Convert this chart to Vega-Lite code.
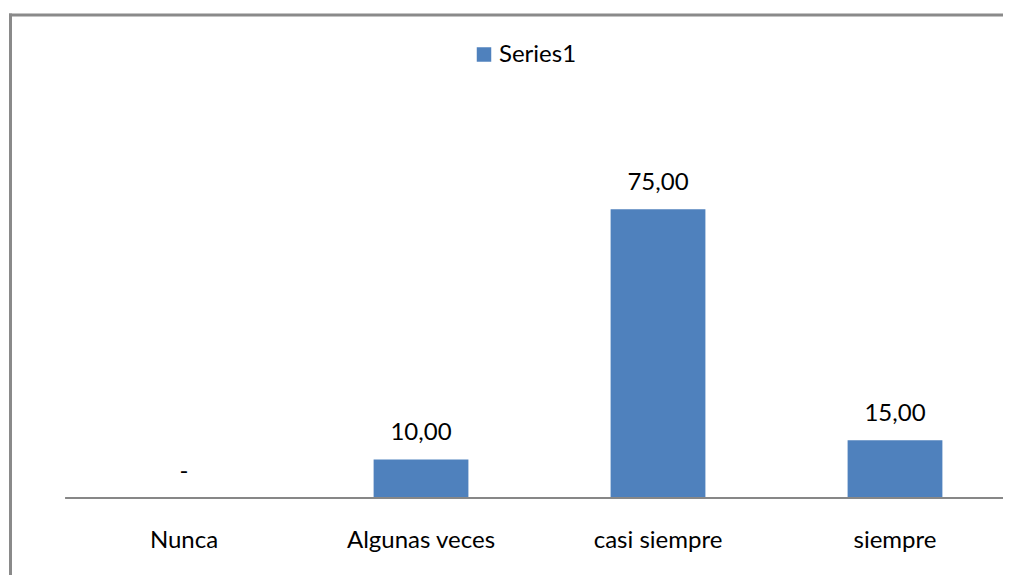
{
  "$schema": "https://vega.github.io/schema/vega-lite/v6.json",
  "width": 993,
  "height": 560,
  "autosize": {"type": "none"},
  "padding": {"left": 10, "top": 14.5, "right": 0, "bottom": 0},
  "background": "white",
  "config": {
    "view": {"stroke": null},
    "font": "Lato",
    "text": {"font": "Lato", "fontSize": 24, "color": "#000000"}
  },
  "data": {
    "values": [
      {"category": "Nunca", "value": 0, "label": "-", "series": "Series1"},
      {"category": "Algunas veces", "value": 10, "label": "10,00", "series": "Series1"},
      {"category": "casi siempre", "value": 75, "label": "75,00", "series": "Series1"},
      {"category": "siempre", "value": 15, "label": "15,00", "series": "Series1"}
    ]
  },
  "encoding": {
    "x": {
      "field": "category",
      "type": "nominal",
      "sort": null,
      "scale": {"paddingInner": 0.6, "paddingOuter": 0.395, "align": 0.6763},
      "axis": {
        "orient": "top",
        "title": null,
        "labels": false,
        "ticks": false,
        "domain": true,
        "domainColor": "#8a8a8a",
        "domainWidth": 3,
        "domainCap": "square"
      }
    }
  },
  "layer": [
    {
      "mark": {"type": "bar"},
      "encoding": {
        "y": {
          "field": "value",
          "type": "quantitative",
          "scale": {"domain": [-19.87, 125.58], "nice": false, "zero": false},
          "axis": {
            "title": null,
            "labels": false,
            "ticks": false,
            "grid": false,
            "domain": true,
            "domainColor": "#8a8a8a",
            "domainWidth": 3,
            "domainCap": "square"
          }
        },
        "y2": {"datum": 0},
        "color": {
          "field": "series",
          "type": "nominal",
          "scale": {"range": ["#4F81BD"]},
          "legend": {
            "orient": "none",
            "legendX": 462,
            "legendY": 28,
            "title": null,
            "padding": 0,
            "symbolType": "square",
            "symbolSize": 210,
            "symbolStrokeWidth": 0,
            "labelFont": "Lato",
            "labelFontSize": 24,
            "labelColor": "#000000",
            "labelOffset": 3
          }
        }
      }
    },
    {
      "mark": {"type": "text", "align": "center", "baseline": "alphabetic", "dy": -19},
      "encoding": {
        "y": {"field": "value", "type": "quantitative"},
        "text": {"field": "label", "type": "nominal"}
      }
    },
    {
      "mark": {"type": "text", "align": "center", "baseline": "alphabetic", "dy": 50.3},
      "encoding": {
        "y": {"datum": 0, "type": "quantitative"},
        "text": {"field": "category", "type": "nominal"}
      }
    },
    {
      "mark": {"type": "rule", "color": "#878787", "strokeWidth": 2},
      "encoding": {
        "x": {"datum": "Nunca", "type": "nominal", "bandPosition": -0.75},
        "x2": {"datum": "siempre", "bandPosition": 1.75},
        "y": {"datum": 0, "type": "quantitative"}
      }
    }
  ]
}
